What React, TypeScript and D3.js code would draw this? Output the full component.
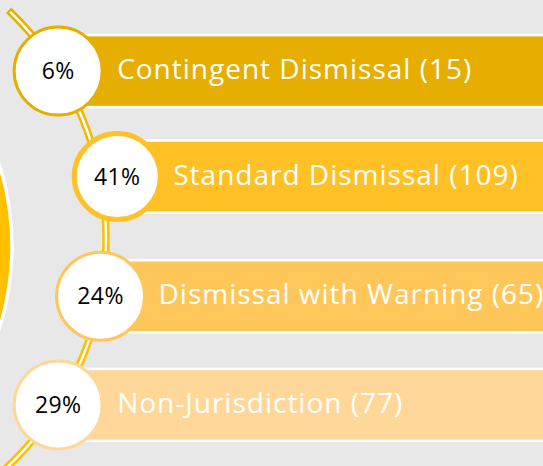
import React from "react";
import * as d3 from "d3";

const categories = ["Contingent Dismissal", "Standard Dismissal", "Dismissal with Warning", "Non-Jurisdiction"];
const counts = [15, 109, 65, 77];
const colors = ["#E6AE00", "#FFC125", "#FFC75A", "#FFD798"];

const W = 543;
const H = 466;

export default function App() {
  const total = d3.sum(counts);
  const pct = counts.map((c) => Math.round((c / total) * 100) + "%");
  const maxIdx = d3.maxIndex(counts);

  // curved list geometry
  const arcCx = -209;
  const arcCy = 238;
  const arcR = 315;
  const angle = d3.scalePoint<string>().domain(categories).range([-32, 32]);
  const toRad = (d: number) => (d * Math.PI) / 180;
  const nodes = categories.map((c, i) => {
    const a = toRad(angle(c) as number);
    const r = arcR + (i === maxIdx ? 17 : 0);
    return { c, i, x: arcCx + r * Math.cos(a), y: arcCy + r * Math.sin(a) };
  });

  const circleR = 44;
  const barH = 72;

  const arcPath = (a0: number, a1: number) => {
    const p = d3.path();
    p.arc(arcCx, arcCy, arcR, toRad(a0), toRad(a1));
    return p.toString();
  };

  const textOffsets = [13, 10, 12, 13];

  return (
    <svg width={W} height={H} style={{ position: "absolute", left: 0, top: 0, display: "block" }}>
      <defs>
        <linearGradient id="conn" x1="0" y1="0" x2="0" y2="1">
          <stop offset="0" stopColor="#E6AE00" />
          <stop offset="0.45" stopColor="#FFC000" />
          <stop offset="1" stopColor="#FFC000" />
        </linearGradient>
      </defs>
      <rect x={0} y={0} width={W} height={H} fill="#E8E8E8" />
      {/* big disk on the left */}
      <circle cx={-259} cy={246.5} r={271} fill="#FFC000" stroke="#FFFFFF" strokeWidth={3.5} />
      {/* double line connector */}
      <path d={arcPath(-46.3, 52)} fill="none" stroke="url(#conn)" strokeWidth={7.5} />
      <path d={arcPath(-45.9, 52)} fill="none" stroke="#FFFFFF" strokeWidth={2.4} />
      {/* bars */}
      {nodes.map((n) => (
        <rect
          key={"bar" + n.i}
          x={n.x}
          y={n.y - barH / 2}
          width={W + 20 - n.x}
          height={barH}
          fill={colors[n.i]}
          stroke="#FFFFFF"
          strokeWidth={2.5}
        />
      ))}
      {/* circles */}
      {nodes.map((n) => (
        <circle
          key={"c" + n.i}
          cx={n.x}
          cy={n.y}
          r={n.i === maxIdx ? circleR - 1 : circleR}
          fill="#FFFFFF"
          stroke={colors[n.i]}
          strokeWidth={n.i === maxIdx ? 5 : 3}
        />
      ))}
      {nodes.map((n) => (
        <text
          key={"p" + n.i}
          x={n.x}
          y={n.y + 8}
          textAnchor="middle"
          fontFamily="'Open Sans', sans-serif"
          fontSize={23}
          letterSpacing={0.4}
          fill="#000000"
        >
          {pct[n.i]}
        </text>
      ))}
      {nodes.map((n) => (
        <text
          key={"t" + n.i}
          x={n.x + circleR + 2 + textOffsets[n.i]}
          y={n.y + 8}
          fontFamily="'Open Sans', sans-serif"
          fontSize={28}
          letterSpacing={1}
          fill="#FFFFFF"
        >
          {`${n.c} (${counts[n.i]})`}
        </text>
      ))}
    </svg>
  );
}
